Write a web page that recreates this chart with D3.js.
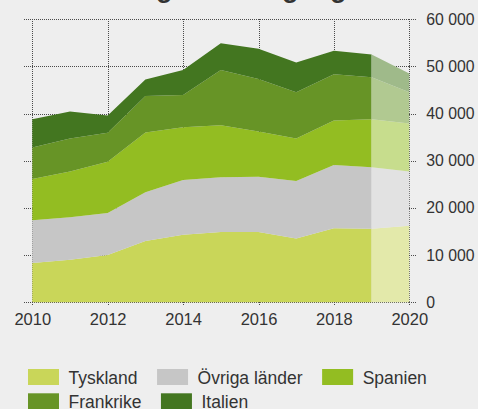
<!DOCTYPE html>
<html lang="sv">
<head>
<meta charset="utf-8">
<script src="https://cdn.jsdelivr.net/npm/d3@7/dist/d3.min.js"></script>
<style>
  html, body { margin: 0; padding: 0; background: #eeeeee; }
  svg { display: block; }
  text { font-family: "Liberation Sans", Arial, sans-serif; fill: #333333; }
</style>
</head>
<body>
<svg id="chart" width="478" height="409"></svg>
<script>
// Yearly volumes per country (2020 is a forecast)
const years     = [2010, 2011, 2012, 2013, 2014, 2015, 2016, 2017, 2018, 2019, 2020];
const tyskland  = [8300, 9000, 10000, 13000, 14300, 14900, 14900, 13500, 15700, 15600, 16200];
const ovriga    = [9100, 9000, 8900, 10300, 11600, 11600, 11700, 12200, 13400, 13000, 11500];
const spanien   = [8700, 9700, 10900, 12700, 11200, 11000, 9600, 9000, 9400, 10200, 10200];
const frankrike = [6700, 7000, 6100, 7700, 6800, 11700, 11100, 9800, 9800, 8900, 6600];
const italien   = [6000, 5700, 3700, 3500, 5300, 5700, 6400, 6300, 5000, 4800, 4000];
const forecastFrom = 2019;

const seriesNames = ["Tyskland", "Övriga länder", "Spanien", "Frankrike", "Italien"];
const seriesKeys  = ["tyskland", "ovriga", "spanien", "frankrike", "italien"];
const colors      = ["#c9d659", "#c6c6c6", "#93bd22", "#679426", "#437620"];
const lightColors = ["#e3e9aa", "#e2e2e2", "#c7dd8d", "#b1c991", "#9fba8a"];

const xTicks = [2010, 2012, 2014, 2016, 2018, 2020];
const yTicks = [0, 10000, 20000, 30000, 40000, 50000, 60000];
const title = "Utvecklingen kom igång";

const table = years.map((yr, i) => ({
  year: yr,
  tyskland: tyskland[i], ovriga: ovriga[i], spanien: spanien[i],
  frankrike: frankrike[i], italien: italien[i]
}));

const svg = d3.select("#chart");
const x = d3.scaleLinear().domain([2010, 2020]).range([32.3, 409.3]);
const y = d3.scaleLinear().domain([0, 60000]).range([302.3, 19.1]);

const sv = d3.formatLocale({ decimal: ",", thousands: "\u00a0", grouping: [3], currency: ["", " kr"] });
const fmt = sv.format(",d");

// Title (sits above the top edge)
svg.append("text")
  .attr("x", 36).attr("y", -3)
  .style("font-size", "27px").style("font-weight", "bold")
  .text(title);

// Dotted grid
const grid = svg.append("g").attr("stroke", "#4a4a4a").attr("stroke-width", 1)
  .attr("stroke-dasharray", "1,1").attr("shape-rendering", "crispEdges");
grid.selectAll("line.h").data(yTicks).join("line").attr("class", "h")
  .attr("x1", 24).attr("x2", x(2020))
  .attr("y1", d => Math.round(y(d)) + 0.5).attr("y2", d => Math.round(y(d)) + 0.5);
grid.selectAll("line.v").data(xTicks).join("line").attr("class", "v")
  .attr("x1", d => Math.round(x(d)) + 0.5).attr("x2", d => Math.round(x(d)) + 0.5)
  .attr("y1", y(60000)).attr("y2", y(0));

// Stacked areas: solid up to 2019, lighter forecast segment 2019–2020
const stack = d3.stack().keys(seriesKeys);
const layers = stack(table);
const area = d3.area()
  .x(d => x(d.data.year))
  .y0(d => y(d[0]))
  .y1(d => y(d[1]));

const areas = svg.append("g");
layers.forEach((layer, i) => {
  const solid = layer.filter(d => d.data.year <= forecastFrom);
  const light = layer.filter(d => d.data.year >= forecastFrom);
  areas.append("path").attr("d", area(solid)).attr("fill", colors[i]);
  areas.append("path").attr("d", area(light)).attr("fill", lightColors[i]);
});

// Right-hand value axis
const yAxis = svg.append("g")
  .attr("transform", `translate(${x(2020)},0)`)
  .call(d3.axisRight(y).tickValues(yTicks).tickSize(8).tickPadding(9).tickFormat(fmt));
yAxis.select(".domain").remove();
yAxis.selectAll(".tick line").attr("stroke", "#4a4a4a").attr("stroke-dasharray", "1,1")
  .attr("shape-rendering", "crispEdges");
yAxis.selectAll(".tick text").style("font-size", "15.8px").attr("fill", "#333");

// Year axis
const xAxis = svg.append("g")
  .attr("transform", `translate(0,${y(0)})`)
  .call(d3.axisBottom(x).tickValues(xTicks).tickSize(3).tickPadding(8).tickFormat(d3.format("d")));
xAxis.select(".domain").remove();
xAxis.selectAll(".tick line").attr("stroke", "#4a4a4a").attr("stroke-dasharray", "1,1")
  .attr("shape-rendering", "crispEdges");
xAxis.selectAll(".tick text").style("font-size", "16.5px").attr("fill", "#333");

// Legend, flowing into rows
const legend = svg.append("g");
const swW = 31, swH = 16, textGap = 9.5, itemGap = 19.5, rowH = 24.3;
let lx = 28, ly = 369;
seriesNames.forEach((name, i) => {
  const g = legend.append("g");
  const t = g.append("text").style("font-size", "17.5px").text(name);
  const w = swW + textGap + t.node().getComputedTextLength();
  if (lx + w > 470) { lx = 28; ly += rowH; }
  g.append("rect").attr("x", lx).attr("y", ly).attr("width", swW).attr("height", swH)
    .attr("fill", colors[i]);
  t.attr("x", lx + swW + textGap).attr("y", ly + 14.5);
  lx += w + itemGap;
});
</script>
</body>
</html>
